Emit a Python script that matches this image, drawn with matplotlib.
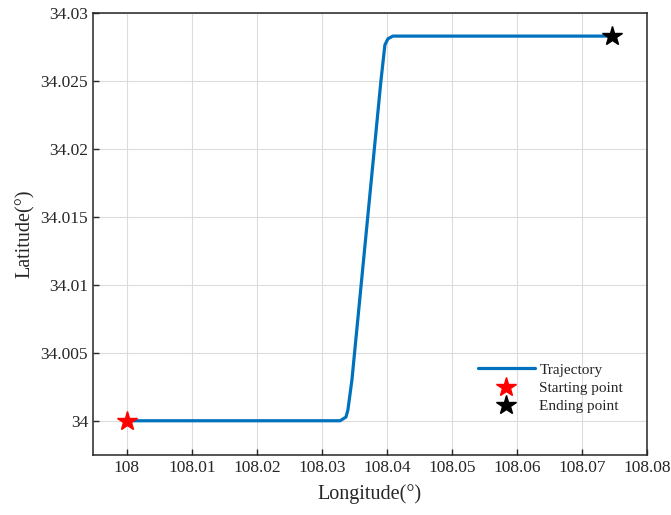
import matplotlib.pyplot as plt

plt.rcParams["font.family"] = ["Liberation Serif", "DejaVu Serif"]

# trajectory waypoints (longitude, latitude)
lon = [108.0, 108.0328, 108.0337, 108.0340, 108.03462, 108.03908, 108.03969, 108.04015, 108.04092, 108.0746]
lat = [34.0, 34.0, 34.00027, 34.00079, 34.0030, 34.0250, 34.02765, 34.0281, 34.0283, 34.0283]
start = (108.0, 34.0)
end = (108.0746, 34.0283)

xticks = [108, 108.01, 108.02, 108.03, 108.04, 108.05, 108.06, 108.07, 108.08]
xticklabels = ["108", "108.01", "108.02", "108.03", "108.04", "108.05", "108.06", "108.07", "108.08"]
yticks = [34, 34.005, 34.01, 34.015, 34.02, 34.025, 34.03]
yticklabels = ["34", "34.005", "34.01", "34.015", "34.02", "34.025", "34.03"]

fig = plt.figure(figsize=(6.71, 5.15), dpi=100)
ax = fig.add_axes([93 / 671, 60 / 515, 554 / 671, 442 / 515])

ax.plot(lon, lat, color="#0072BD", linewidth=2.3, solid_joinstyle="round",
        solid_capstyle="round", label="Trajectory", zorder=3)
ax.plot(*start, marker="*", color="red", markersize=15, linestyle="none",
        label="Starting point", zorder=4)
ax.plot(*end, marker="*", color="black", markersize=15, linestyle="none",
        label="Ending point", zorder=4)

ax.set_xlim(107.9948, 108.08)
ax.set_ylim(33.99748, 34.03)
ax.set_xticks(xticks)
ax.set_xticklabels(xticklabels)
ax.set_yticks(yticks)
ax.set_yticklabels(yticklabels)
ax.tick_params(direction="in", labelsize=12.5, colors="#262626", length=4, width=1)
ax.grid(True, color="#dcdcdc", linewidth=0.8)
ax.set_axisbelow(True)
for s in ax.spines.values():
    s.set_color("#262626")
    s.set_linewidth(1.1)

ax.set_xlabel("Longitude(°)", fontsize=14.5, color="#262626", labelpad=6)
ax.set_ylabel("Latitude(°)", fontsize=14.5, color="#262626", labelpad=4)

leg = ax.legend(loc="upper left", bbox_to_anchor=(0.676, 0.232), frameon=False,
                fontsize=11, handlelength=3.7, handletextpad=0.3,
                labelspacing=0.3, borderpad=0.2)
for t in leg.get_texts():
    t.set_color("#262626")

fig.savefig("out.png", dpi=100)
